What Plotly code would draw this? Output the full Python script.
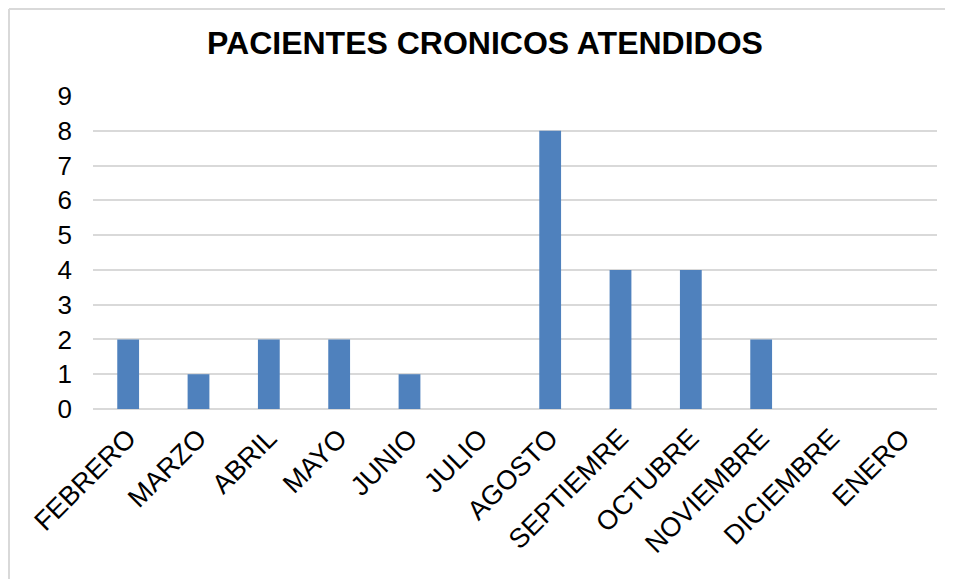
import plotly.graph_objects as go

months = ["FEBRERO", "MARZO", "ABRIL", "MAYO", "JUNIO", "JULIO", "AGOSTO",
          "SEPTIEMRE", "OCTUBRE", "NOVIEMBRE", "DICIEMBRE", "ENERO"]
patients = [2, 1, 2, 2, 1, 0, 8, 4, 4, 2, 0, 0]
y_ticks = list(range(0, 10))

OFF = 8  # page body margin offset
W, H = 953, 579
L, R, T, B = 93 - OFF, 937 - OFF, 96 - OFF, 409 - OFF

fig = go.Figure(go.Bar(x=months, y=patients, marker_color="#4F81BD",
                       marker_line_width=0))

def fx(p):  # figure pixel -> paper x
    return (p - L) / (R - L)

def fy(p):  # figure pixel -> paper y
    return (B - p) / (B - T)

border = dict(color="#D9D9D9", width=2)

fig.update_layout(
    width=W, height=H,
    margin=dict(l=L, r=W - R, t=T, b=H - B),
    paper_bgcolor="white", plot_bgcolor="white",
    bargap=0.69,
    showlegend=False,
    font=dict(family="Liberation Sans, Arial, sans-serif", color="black"),
    title=dict(text="<b>PACIENTES CRONICOS ATENDIDOS</b>",
               font=dict(size=32, color="black"),
               x=(485 - OFF) / W, xanchor="center", xref="container",
               y=1 - (43 - OFF) / H, yanchor="middle"),
    xaxis=dict(tickangle=-45, tickfont=dict(size=27), showgrid=False,
               showline=False, ticks="", ticklabelstandoff=7),
    yaxis=dict(range=[0, 9], tickvals=y_ticks, tickfont=dict(size=26),
               showgrid=True, gridcolor="#D9D9D9", gridwidth=1.5,
               zeroline=True, zerolinecolor="#D9D9D9", zerolinewidth=1.5,
               showline=False, ticks="", ticklabelstandoff=20),
    shapes=[
        dict(type="line", xref="paper", yref="paper",
             x0=fx(1), x1=fx(W - OFF), y0=fy(1), y1=fy(1),
             line=border, layer="below"),
        dict(type="line", xref="paper", yref="paper",
             x0=fx(1), x1=fx(1), y0=fy(1), y1=fy(H - OFF),
             line=border, layer="below"),
    ],
)

fig.write_html("out.html")
